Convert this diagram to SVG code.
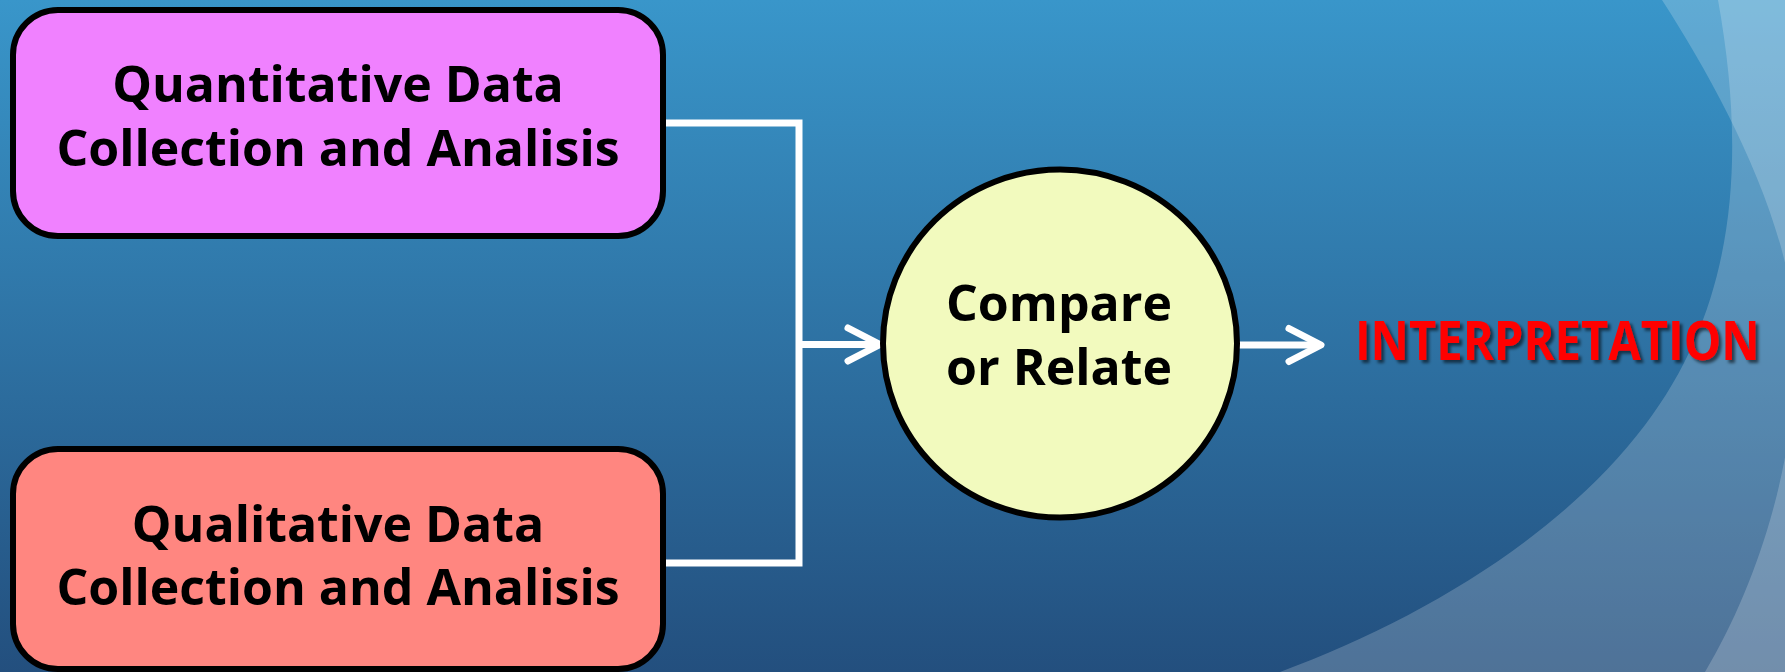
<svg xmlns="http://www.w3.org/2000/svg" width="1785" height="672" viewBox="0 0 1785 672">
  <defs>
    <linearGradient id="bg" x1="0" y1="0" x2="0" y2="1">
      <stop offset="0" stop-color="#3996CA"/>
      <stop offset="1" stop-color="#234F7E"/>
    </linearGradient>
    <filter id="shadow" x="-5%" y="-30%" width="110%" height="160%">
      <feDropShadow dx="3" dy="3" stdDeviation="1.5" flood-color="#000000" flood-opacity="0.55"/>
    </filter>
    <marker id="chevron" markerUnits="userSpaceOnUse" markerWidth="40" markerHeight="40" viewBox="-36 -20 40 40" refX="0" refY="0" orient="auto" overflow="visible">
      <path d="M -28 -16.5 L 4 0 L -28 16.5" fill="none" stroke="#FFFFFF" stroke-width="7" stroke-linecap="round" stroke-linejoin="round"/>
    </marker>
  </defs>
  <style>
    .box { stroke: #000000; stroke-width: 6; }
    .label { font-family: "Open Sans", "Liberation Sans", sans-serif; font-weight: 700; font-size: 50px; fill: #000000; text-anchor: middle; }
    .wire { fill: none; stroke: #FFFFFF; stroke-width: 7; }
    .swoosh { fill: #FFFFFF; fill-opacity: 0.2; }
  </style>

  <!-- backdrop -->
  <rect x="0" y="0" width="1785" height="672" fill="url(#bg)"/>
  <path class="swoosh" d="M1662,0 C1720,90 1790,220 1795,330 C1800,450 1760,580 1705,672 L1900,672 L1900,0 Z"/>
  <path class="swoosh" d="M1718,0 C1745,150 1740,300 1645,425 C1560,537 1420,620 1280,672 L1900,672 L1900,0 Z"/>

  <!-- connectors -->
  <g id="connectors">
    <polyline class="wire" points="663,123 799,123 799,563 663,563" stroke-linejoin="miter"/>
    <line class="wire" x1="799" y1="344.5" x2="876" y2="344.5" marker-end="url(#chevron)"/>
    <line class="wire" x1="1238" y1="345" x2="1317" y2="345" marker-end="url(#chevron)"/>
  </g>

  <g id="quantitative">
    <rect class="box" x="13" y="10" width="650" height="226" rx="45" ry="45" fill="#F081FF"/>
    <text class="label" x="338" y="102">Quantitative Data</text>
    <text class="label" x="338" y="166">Collection and Analisis</text>
  </g>

  <g id="qualitative">
    <rect class="box" x="13" y="449" width="650" height="220" rx="45" ry="45" fill="#FF8680"/>
    <text class="label" x="338" y="542">Qualitative Data</text>
    <text class="label" x="338" y="605">Collection and Analisis</text>
  </g>

  <g id="compare">
    <ellipse class="box" cx="1060" cy="343.5" rx="177" ry="174" fill="#F2FABE"/>
    <text class="label" x="1059" y="321">Compare</text>
    <text class="label" x="1059" y="385">or Relate</text>
  </g>

  <!-- condensed red result label -->
  <g id="interpretation" filter="url(#shadow)">
    <text transform="translate(1355 360) scale(0.89 1)" x="0" y="0" font-family="'Open Sans', 'Liberation Sans', sans-serif" font-weight="700" font-size="53" fill="#FF0000">INTERPRETATION</text>
  </g>
</svg>
